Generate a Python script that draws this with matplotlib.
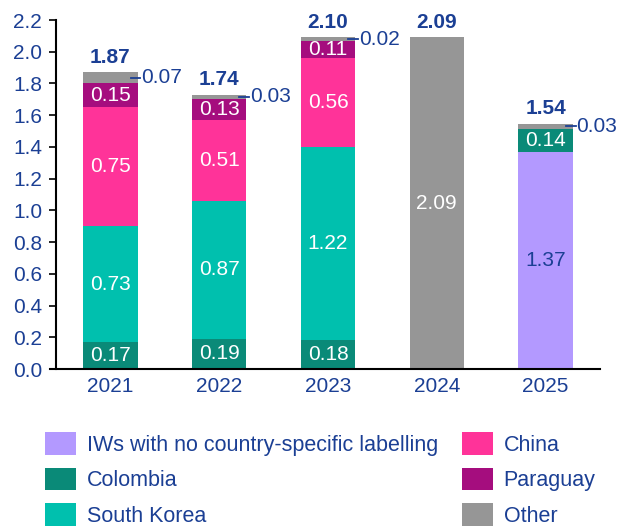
import numpy as np
import matplotlib
matplotlib.use("Agg")
import matplotlib.pyplot as plt
from matplotlib.patches import Patch

plt.rcParams['font.family'] = ['Liberation Sans', 'DejaVu Sans']

years = ['2021', '2022', '2023', '2024', '2025']
no_label = [0.00, 0.00, 0.00, 0.00, 1.37]
colombia = [0.17, 0.19, 0.18, 0.00, 0.14]
south_korea = [0.73, 0.87, 1.22, 0.00, 0.00]
china = [0.75, 0.51, 0.56, 0.00, 0.00]
paraguay = [0.15, 0.13, 0.11, 0.00, 0.005]
other = [0.07, 0.03, 0.02, 2.09, 0.03]
totals = [1.87, 1.74, 2.10, 2.09, 1.54]

NAVY = '#1B3F94'
FS = 15
series = [
    ('IWs with no country-specific labelling', no_label, '#B399FF', NAVY),
    ('Colombia', colombia, '#0A8A78', 'white'),
    ('South Korea', south_korea, '#00C0AE', 'white'),
    ('China', china, '#FF3399', 'white'),
    ('Paraguay', paraguay, '#A50D7E', 'white'),
    ('Other', other, '#969696', 'white'),
]

fig = plt.figure(figsize=(6.21, 5.27), dpi=100)
ax = fig.add_axes([0.0902, 0.2998, 0.876, 0.6622])

x = np.arange(len(years))
width = 0.5
bottom = np.zeros(len(years))
for name, vals, color, tcol in series:
    vals = np.array(vals)
    ax.bar(x, vals, width, bottom=bottom, color=color, linewidth=0)
    for i, v in enumerate(vals):
        if v < 0.01:
            continue
        mid = bottom[i] + v / 2
        if name == 'Other' and v < 0.1:
            # small slices get a leader line and an outside label
            ax.plot([x[i] + width / 2 - 0.065, x[i] + width / 2 + 0.025], [mid, mid],
                    color=NAVY, lw=1.3, clip_on=False)
            ax.text(x[i] + width / 2 + 0.035, mid, f'{v:.2f}', color=NAVY,
                    fontsize=FS, ha='left', va='center')
        else:
            ax.text(x[i], mid, f'{v:.2f}', color=tcol, fontsize=FS,
                    ha='center', va='center')
    bottom += vals

for i, t in enumerate(totals):
    ax.text(x[i], bottom[i] + 0.035, f'{t:.2f}', color=NAVY, fontsize=FS,
            fontweight='bold', ha='center', va='bottom')

ax.set_xlim(-0.5, 4.5)
ax.set_ylim(0, 2.2)
ax.set_yticks(np.arange(0, 2.21, 0.2))
ax.set_yticklabels([f'{v:.1f}' for v in np.arange(0, 2.21, 0.2)])
ax.set_xticks(x)
ax.set_xticklabels(years)
ax.tick_params(axis='y', colors='black', labelcolor=NAVY, labelsize=FS,
               length=5, width=1.2, pad=5)
ax.tick_params(axis='x', length=0, labelcolor=NAVY, labelsize=FS, pad=6)
for s in ['top', 'right']:
    ax.spines[s].set_visible(False)
for s in ['left', 'bottom']:
    ax.spines[s].set_linewidth(1.5)
ax.spines['bottom'].set_bounds(-0.555, 4.5)

handles = [Patch(facecolor=s[2], edgecolor='none') for s in series]
labels = [s[0] for s in series]
leg = fig.legend(handles, labels, ncol=2, loc='upper left',
                 bbox_to_anchor=(0.072, 0.18), frameon=False, fontsize=15.5,
                 handlelength=1.45, handleheight=1.25, labelspacing=0.55,
                 handletextpad=0.5, columnspacing=1.1, borderaxespad=0,
                 borderpad=0)
for t in leg.get_texts():
    t.set_color(NAVY)

fig.savefig('out.png', dpi=100)
